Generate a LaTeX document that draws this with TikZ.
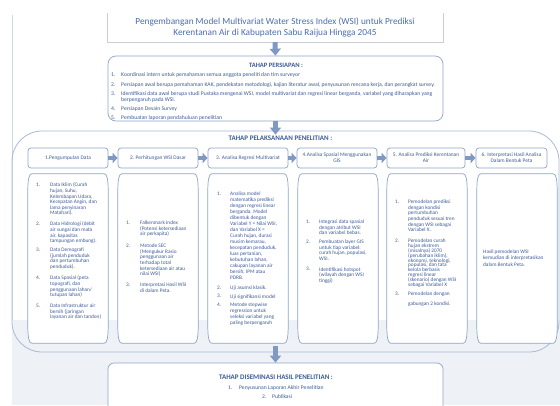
\documentclass[tikz,border=0pt]{standalone}
\usepackage{fontspec}
\setmainfont{Carlito}
\usetikzlibrary{arrows.meta,calc}
\definecolor{txtc}{HTML}{3D5C97}
\definecolor{bordc}{HTML}{8DA5C9}
\definecolor{bordl}{HTML}{A9BAD4}
\definecolor{arrc}{HTML}{7F99C3}
\definecolor{greyc}{HTML}{EEF2F6}
\definecolor{pagec}{HTML}{D3D8DE}
\definecolor{titc}{HTML}{4A6FAE}
\definecolor{titb}{HTML}{C9CED6}

\newcommand\itmsz{5.3}
\tikzset{
  itxt/.style={inner sep=0pt, text=txtc, font=\fontsize{\itmsz}{5.6}\selectfont, align=left},
  topbox/.style={draw=bordc, fill=white, rounded corners=3pt, line width=0.7pt, minimum height=20pt,
    inner sep=1pt, align=center, text=txtc, font=\fontsize{5.4}{5.8}\selectfont},
  dnode/.style={draw=none, minimum width=80pt, minimum height=169pt, inner sep=0pt},
  dline/.style={draw=bordc, fill=white, line width=0.7pt},
  barrow/.style={draw=arrc, line width=5pt, -{Triangle[width=11pt,length=7pt]}},
  hbarrow/.style={draw=arrc, line width=4.5pt, -{Triangle[width=10pt,length=5pt]}},
  headtxt/.style={inner sep=0pt, text=txtc, font=\bfseries\fontsize{7}{8}\selectfont},
}

\newcommand\itm[7]{%
  \node[itxt, anchor=north west] (#1n) at (#2,#4-2.2) {#6};
  \node[itxt, anchor=north west, font=\fontsize{\itmsz}{#5}\selectfont] (#1) at (#3,#4-2.2) {#7};}

\newcommand\dshape[1]{%
  \draw[dline] ($(#1.north west)+(4,0)$) -- ($(#1.north east)+(-4,0)$)
    .. controls ($(#1.north east)+(-1,0)$) and ($(#1.north east)+(0,6)$) .. ($(#1.north east)+(0,18)$)
    -- ($(#1.south east)+(0,-18)$)
    .. controls ($(#1.south east)+(0,-6)$) and ($(#1.south east)+(-1,0)$) .. ($(#1.south east)+(-4,0)$)
    -- ($(#1.south west)+(4,0)$)
    .. controls ($(#1.south west)+(1,0)$) and ($(#1.south west)+(0,-6)$) .. ($(#1.south west)+(0,-18)$)
    -- ($(#1.north west)+(0,18)$)
    .. controls ($(#1.north west)+(0,6)$) and ($(#1.north west)+(1,0)$) .. cycle;}

\begin{document}
\begin{tikzpicture}[x=1pt,y=-1pt]
\useasboundingbox (0,0) rectangle (560,405);
\clip (0,0) rectangle (560,405);
\fill[white] (0,0) rectangle (560,405);
% page background
\fill[greyc] (12,320) rectangle (560,405);
\draw[pagec, line width=0.6pt] (12,15) -- (12,320);

% title
\node[inner sep=0pt, minimum width=336pt, minimum height=29pt, align=center, text=titc,
      font=\fontsize{9.3}{11}\selectfont] (title) at (275,27.5)
  {Pengembangan Model Multivariat Water Stress Index (WSI) untuk Prediksi\\Kerentanan Air di Kabupaten Sabu Raijua Hingga 2045};
\draw[titb, line width=0.6pt] (title.north west) -- (title.south west) -- (title.south east) -- (title.north east);

% persiapan
\node[draw=bordc, fill=white, line width=0.7pt, rounded corners=8pt, minimum width=335pt, minimum height=65pt,
      inner sep=0pt] (prep) at (275.5,88.5) {};
\node[headtxt, font=\bfseries\fontsize{6.6}{7}\selectfont] (prephead) at (276,65) {TAHAP PERSIAPAN :};
\renewcommand\itmsz{5.65}
\itm{p1}{111}{121}{75}{5.6}{1.}{Koordinasi intern untuk pemahaman semua anggota peneliti dan tim surveyor}
\itm{p2}{111}{121}{84.5}{5.6}{2.}{Persiapan awal berupa pemahaman KAK, pendekatan metodologi, kajian literatur awal, penyusunan rencana kerja, dan perangkat survey.}
\itm{p3}{111}{121}{93.5}{6}{3.}{Identifikasi data awal berupa studi Pustaka mengenai WSI, model multivariat dan regresi linear berganda, variabel yang diharapkan yang\\berpengaruh pada WSI.}
\itm{p4}{111}{121}{109}{5.6}{4.}{Persiapan Desain Survey}
\itm{p5}{111}{121}{118}{5.6}{5.}{Pembuatan laporan pendahuluan penelitian}
\renewcommand\itmsz{5.3}

% pelaksanaan container
\node[draw=bordl, line width=0.8pt, rounded corners=30pt, minimum width=547pt, minimum height=221pt,
      inner sep=0pt] (pel) at (285.5,241.5) {};
\node[headtxt] (pelhead) at (280.5,138) {TAHAP PELAKSANAAN PENELITIAN :};

% top row boxes
\node[topbox, minimum width=80pt] (h1) at (68,158) {1.Pengumpulan Data};
\node[topbox, minimum width=80pt] (h2) at (158,158) {2. Perhitungan WSI Dasar};
\node[topbox, minimum width=80pt] (h3) at (248,158) {3. Analisa Regresi Multivariat};
\node[topbox, minimum width=80pt] (h4) at (337,158) {4.Analisa Spasial Menggunakan\\GIS};
\node[topbox, minimum width=78pt] (h5) at (426,158) {5. Analisa Prediksi Kerentanan\\Air};
\node[topbox, minimum width=71pt] (h6) at (511.5,158) {6. Interpretasi Hasil Analisa\\Dalam Bentuk Peta};
\draw[hbarrow] (h1.east) -- (h2.west);
\draw[hbarrow] (h2.east) -- (h3.west);
\draw[hbarrow] (h3.east) -- (h4.west);
\draw[hbarrow] (h4.east) -- (h5.west);
\draw[hbarrow] (h5.east) -- (h6.west);

% detail boxes
\node[dnode] (d1) at (68,258.5) {};
\node[dnode] (d2) at (158,258.5) {};
\node[dnode] (d3) at (248,258.5) {};
\node[dnode] (d4) at (338,258.5) {};
\node[dnode] (d5) at (427,258.5) {};
\node[dnode] (d6) at (517,258.5) {};
\dshape{d1}\dshape{d2}\dshape{d3}\dshape{d4}\dshape{d5}\dshape{d6}

% column 1
\itm{a1}{36}{50}{185}{5.6}{1.}{Data Iklim (Curah\\hujan, Suhu,\\Kelembapan Udara,\\Kecepatan Angin, dan\\lama penyinaran\\Matahari).}
\itm{a2}{36}{50}{224}{5.6}{2.}{Data Hidrologi (debit\\air sungai dan mata\\air, kapasitas\\tampungan embung).}
\itm{a3}{36}{50}{250}{5.6}{3.}{Data Demografi\\(jumlah penduduk\\dan pertumbuhan\\penduduk).}
\itm{a4}{36}{50}{278}{5.6}{4.}{Data Spasial (peta\\topografi, dan\\penggunaan lahan/\\tutupan lahan)}
\itm{a5}{36}{50}{306}{5.6}{5.}{Data Infrastruktur air\\bersih (jaringan\\layanan air dan tandon)}

% column 2
\itm{b1}{126}{140}{223}{5.6}{1.}{Falkenmark Index\\(Potensi ketersediaan\\air perkapita)}
\itm{b2}{126}{140}{246}{5.6}{2.}{Metode SEC\\(Mengukur Rasio\\penggunaan air\\terhadap total\\ketersediaan air atau\\nilai WSI)}
\itm{b3}{126}{140}{285}{5.6}{3.}{Interpretasi Hasil WSI\\di dalam Peta.}

% column 3
\itm{c1}{217}{230}{194}{6}{1.}{Analisa model\\matematika prediksi\\dengan regresi linear\\berganda. Model\\dibentuk dengan\\Variabel Y = Nilai WSI,\\dan Variabel X =\\Curah hujan, durasi\\musim kemarau,\\kecepatan penduduk,\\luas pertanian,\\kebutuhan lahan,\\cakupan layanan air\\bersih, IPM atau\\PDRB.}
\itm{c2}{217}{230}{288}{5.6}{2.}{Uji asumsi klasik.}
\itm{c3}{217}{230}{296.5}{5.6}{3.}{Uji signifikansi model}
\itm{c4}{217}{230}{305}{6}{4.}{Metode stepwise\\regression untuk\\seleksi variabel yang\\paling berpengaruh}

% column 4
\itm{e1}{306}{319}{222}{5.6}{1.}{Integrasi data spasial\\dengan atribut WSI\\dan variabel bebas.}
\itm{e2}{306}{319}{242}{5.6}{2.}{Pembuatan layer GIS\\untuk tiap variabel:\\curah hujan, populasi,\\WSI.}
\itm{e3}{306}{319}{269.5}{5.6}{3.}{Identifikasi hotspot\\(wilayah dengan WSI\\tinggi)}

% column 5
\itm{f1}{395}{408}{202}{5.6}{1.}{Pemodelan prediksi\\dengan kondisi\\pertumbuhan\\penduduk sesuai tren\\dengan WSI sebagai\\Variabel X.}
\itm{f2}{395}{408}{241}{4.85}{2.}{Pemodelan curah\\hujan ekstrem\\(misalnya) 2070\\(perubahan iklim),\\ekonomi, teknologi,\\populasi, dan tata\\kelola berbasis\\regresi linear\\(skenario) dengan WSI\\sebagai Variabel X}
\itm{f3}{395}{408}{294}{10}{3.}{Pemodelan dengan\\gabungan 2 kondisi.}

% column 6
\node[itxt, anchor=north west, font=\fontsize{5.3}{6.2}\selectfont] (g1) at (483,249.8)
  {Hasil pemodelan WSI\\kemudian di interpretasikan\\dalam Bentuk Peta.};

% diseminasi
\node[draw=bordc, fill=white, line width=0.7pt, rounded corners=6pt, minimum width=335pt, minimum height=54pt,
      inner sep=0pt] (dis) at (275.5,390) {};
\node[headtxt] (dishead) at (276,377) {TAHAP DISEMINASI HASIL PENELITIAN :};
\renewcommand\itmsz{5.6}
\itm{q1}{228}{239}{388}{5.6}{1.}{Penyusunan Laporan Akhir Penelitian}
\itm{q2}{262}{272}{397}{5.6}{2.}{Publikasi}

% vertical arrows
\draw[barrow] (title.south) -- (prep.north);
\draw[barrow, shorten >=-4pt] (prep.south) -- (prep.south |- pel.north);
\draw[barrow, shorten <=-6pt] (dis.north |- pel.south) -- (dis.north);
\end{tikzpicture}
\end{document}
